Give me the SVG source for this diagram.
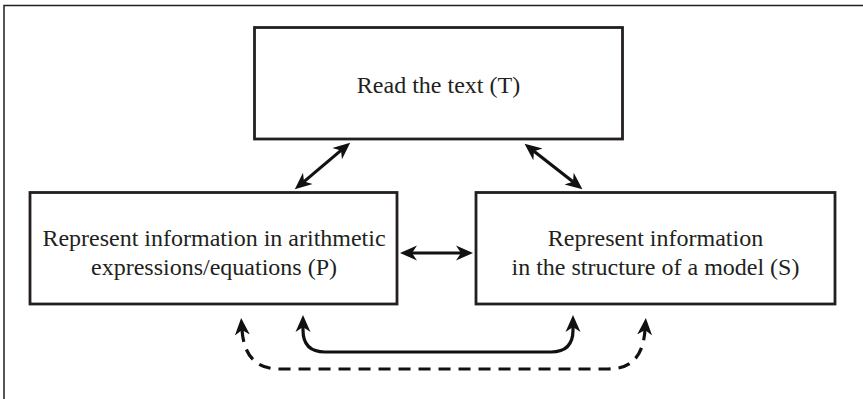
<svg xmlns="http://www.w3.org/2000/svg" width="863" height="399" viewBox="0 0 863 399">
<defs>
<style>
.box{fill:#fff;stroke:#231f20;stroke-width:2.8}
.frame{fill:none;stroke:#231f20;stroke-width:1.5}
.t{font-family:"Liberation Serif","Times New Roman",serif;font-size:24px;fill:#231f20;text-anchor:middle}
.c{fill:none;stroke:#111;stroke-width:3.2}
.d{stroke-dasharray:12 8}
</style>
<marker id="ah" markerUnits="userSpaceOnUse" markerWidth="20" markerHeight="18" viewBox="0 -9 20 18" refX="5" refY="0" orient="auto-start-reverse">
<path d="M17,0 L0,-7.5 L5,0 L0,7.5 Z" fill="#111"/>
</marker>
</defs>
<rect width="863" height="399" fill="#fff"/>
<rect class="frame" x="4" y="5.5" width="880" height="420"/>
<g id="T">
<rect class="box" x="254.5" y="27.5" width="368" height="111.5"/>
<text class="t" x="438.5" y="93">Read the text (T)</text>
</g>
<g id="P">
<rect class="box" x="30" y="192.5" width="367" height="111.5"/>
<text class="t" x="214" y="246">Represent information in arithmetic</text>
<text class="t" x="214" y="275">expressions/equations (P)</text>
</g>
<g id="S">
<rect class="box" x="476" y="192.5" width="359" height="111.5"/>
<text class="t" x="655.5" y="246">Represent information</text>
<text class="t" x="655.5" y="275">in the structure of a model (S)</text>
</g>
<g id="connectors">
<path class="c" d="M304,181.6 L341,150.4" marker-start="url(#ah)" marker-end="url(#ah)"/>
<path class="c" d="M534,151.2 L573,181.8" marker-start="url(#ah)" marker-end="url(#ah)"/>
<path class="c" d="M412,253 L461,253" marker-start="url(#ah)" marker-end="url(#ah)"/>
<path class="c" d="M303,327 V330 Q303,352 325,352 H551 Q573,352 573,330 V327" marker-start="url(#ah)" marker-end="url(#ah)"/>
<path class="c d" d="M242,330 C244,358 258,369 280,369 H608 C630,369 643,358 645,330" marker-start="url(#ah)" marker-end="url(#ah)"/>
</g>
</svg>
